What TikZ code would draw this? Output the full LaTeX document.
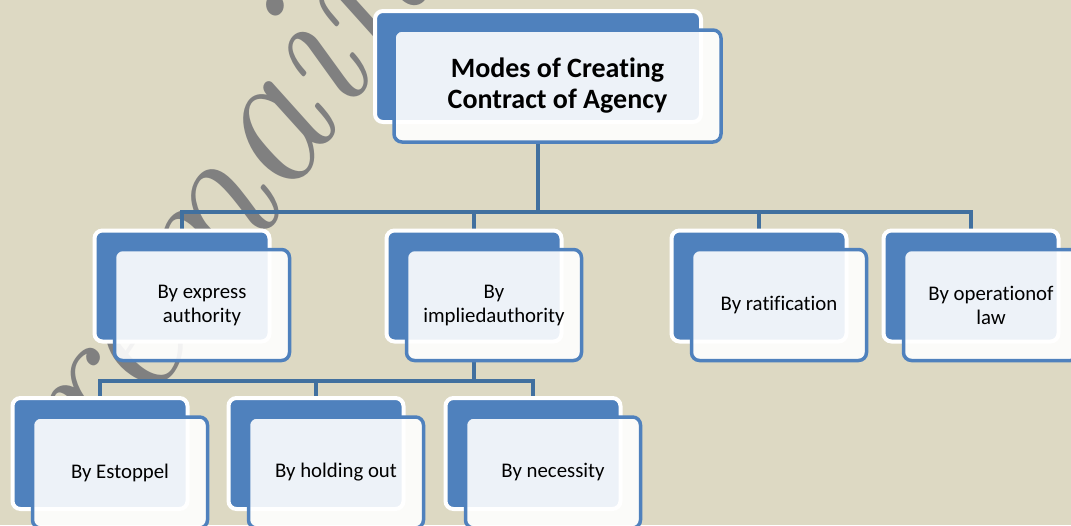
\documentclass[tikz,border=0pt]{standalone}
\usepackage{fontspec}
\setmainfont[Ligatures=NoCommon]{Carlito}
\newfontfamily\markfont{Latin Modern Roman}
\usepackage{tikz}
\usetikzlibrary{shapes.geometric, arrows}
\usetikzlibrary{positioning}
\definecolor{paper}{HTML}{DDD9C3}
\definecolor{boxblue}{HTML}{4F81BD}
\definecolor{linkblue}{HTML}{41709F}
\definecolor{markgrey}{HTML}{808080}
\tikzstyle{back} = [rectangle, rounded corners=4pt, minimum width=87.5pt, minimum height=55.5pt, fill=boxblue, draw=white, line width=2pt, outer sep=0pt]
\tikzstyle{front} = [rectangle, rounded corners=4pt, minimum width=87.5pt, minimum height=55.5pt, fill=white, fill opacity=0.9, text opacity=1, draw=boxblue, line width=1.75pt, align=center, font=\fontsize{10.4}{12}\selectfont, outer sep=0pt]
\tikzstyle{link} = [draw=linkblue, line width=2.2pt]
\pgfdeclarelayer{bg}
\pgfdeclarelayer{lines}
\pgfsetlayers{bg,lines,main}

\begin{document}
\begin{tikzpicture}[x=0.5pt, y=-0.5pt]
    \useasboundingbox (0,0) rectangle (1071,525);
    \begin{pgfonlayer}{bg}
        \fill[paper] (0,0) rectangle (1071,525);
        \node[text=markgrey, rotate=56, font=\markfont\itshape\fontsize{100}{100}\selectfont] (mark) at (240,158) {remains};
    \end{pgfonlayer}

    % top
    \node[back, minimum width=163pt] (rootback) at (538,66.5) {};
    \node[front, minimum width=163.5pt, minimum height=56pt, font=\bfseries\fontsize{14}{15.5}\selectfont] (root) at (557.5,86) {Modes of Creating\\Contract of Agency};

    % second row
    \node[back] (expressback) at (182,286) {};
    \node[front] (express) at (202,305) {By express\\authority};
    \node[back] (impliedback) at (474,286) {};
    \node[front] (implied) at (494,305) {By\\impliedauthority};
    \node[back] (ratifyback) at (759,286) {};
    \node[front] (ratify) at (779,305) {By ratification};
    \node[back] (lawback) at (971,286) {};
    \node[front] (law) at (991,305) {By operationof\\law};

    % third row
    \node[back] (estoppelback) at (100,453.5) {};
    \node[front] (estoppel) at (120,472.5) {By Estoppel};
    \node[back] (holdingback) at (316,453.5) {};
    \node[front] (holding) at (336,472.5) {By holding out};
    \node[back] (necessityback) at (533,453.5) {};
    \node[front] (necessity) at (553,472.5) {By necessity};

    \begin{pgfonlayer}{lines}
        \coordinate (topbus) at (538,212);
        \draw[link] (rootback.south |- root.south) -- (topbus);
        \draw[link] (topbus) -| (expressback.north);
        \draw[link] (topbus) -| (impliedback.north);
        \draw[link] (topbus) -| (ratifyback.north);
        \draw[link] (topbus) -| (lawback.north);
        \coordinate (lowbus) at (474,381);
        \draw[link] (impliedback.south |- implied.south) -- (lowbus);
        \draw[link] (lowbus) -| (estoppelback.north);
        \draw[link] (lowbus) -| (holdingback.north);
        \draw[link] (lowbus) -| (necessityback.north);
    \end{pgfonlayer}
\end{tikzpicture}
\end{document}
